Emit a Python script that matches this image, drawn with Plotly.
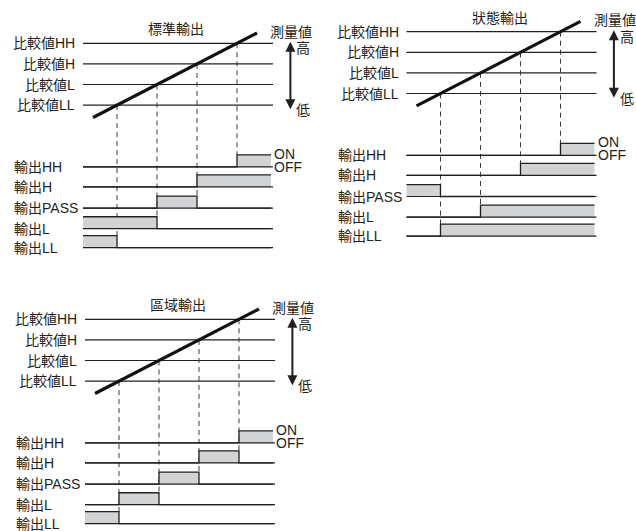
import numpy as np
import plotly.graph_objects as go

# comparison levels (measured-value units)
CMP_LABELS = ["比較値HH", "比較値H", "比較値L", "比較値LL"]
CMP_LEVELS = [4, 3, 2, 1]

# measured value rising over time
MEAS_T = [0.5, 8.7]
MEAS_V = [0.4, 4.5]

OUT_LABELS = ["輸出HH", "輸出H", "輸出PASS", "輸出L", "輸出LL"]
PANEL_TITLES = ["標準輸出", "狀態輸出", "區域輸出"]

# ON(1)/OFF(0) per zone: <LL, LL-L, L-H, H-HH, >HH
OUT_STATES = [
    [[0, 0, 0, 0, 1], [0, 0, 0, 1, 1], [0, 0, 1, 0, 0], [1, 1, 0, 0, 0], [1, 0, 0, 0, 0]],
    [[0, 0, 0, 0, 1], [0, 0, 0, 1, 1], [1, 0, 0, 0, 0], [0, 0, 1, 1, 1], [0, 1, 1, 1, 1]],
    [[0, 0, 0, 0, 1], [0, 0, 0, 1, 0], [0, 0, 1, 0, 0], [0, 1, 0, 0, 0], [1, 0, 0, 0, 0]],
]

W, H = 636, 531
SX, SY = 20.0, 20.6
ROW_Y = [-2.0, -2.97, -4.0, -5.0, -5.92]
PULSE_H = 0.58
T_END = 9.5
T_ON_END = 9.4

# (x px of t=0, y px of HH level, box l, r, t, b)
PANELS = [
    (83, 43.3, 0, 320, 0, 275),
    (406.5, 31.7, 320, 636, 0, 275),
    (85, 319.3, 0, 320, 280, 531),
]

INK = "#231f20"
FILL = "#d1d3d4"
FONT = dict(family="Liberation Sans, Arial, Noto Sans CJK JP", size=14, color=INK)

fig = go.Figure()
annotations = []

cross_t = np.interp(sorted(CMP_LEVELS), MEAS_V, MEAS_T)
edges = [0.0] + list(cross_t) + [T_ON_END]

for i, (x0, y0, bl, br, bt, bb) in enumerate(PANELS):
    sfx = "" if i == 0 else str(i + 1)
    xa, ya = "x" + sfx, "y" + sfx
    top = max(CMP_LEVELS)

    fig.update_layout({
        "xaxis" + sfx: dict(domain=[bl / W, br / W], range=[(bl - x0) / SX, (br - x0) / SX],
                            visible=False, fixedrange=True, anchor=ya),
        "yaxis" + sfx: dict(domain=[1 - bb / H, 1 - bt / H],
                            range=[top - (bb - y0) / SY, top + (y0 - bt) / SY],
                            visible=False, fixedrange=True, anchor=xa),
    })

    # comparison lines
    for lab, lv in zip(CMP_LABELS, CMP_LEVELS):
        fig.add_trace(go.Scatter(x=[0, T_END], y=[lv, lv], mode="lines",
                                 line=dict(color=INK, width=1.2), xaxis=xa, yaxis=ya,
                                 hoverinfo="skip"))
        annotations.append(dict(x=-0.3, y=lv, xref=xa, yref=ya, text=lab, showarrow=False,
                                xanchor="right", yanchor="middle", font=FONT))

    states = OUT_STATES[i]
    # dashed guides from crossing down to the lowest transition
    for k, ct in enumerate(cross_t):
        rows = [r for r in range(len(OUT_LABELS)) if states[r][k] != states[r][k + 1]]
        y_low = ROW_Y[max(rows)] + PULSE_H
        fig.add_trace(go.Scatter(x=[ct, ct], y=[sorted(CMP_LEVELS)[k], y_low], mode="lines",
                                 line=dict(color="#3a3a3a", width=1, dash="5px,4px"),
                                 xaxis=xa, yaxis=ya, hoverinfo="skip"))

    # output rows
    for r, (lab, st) in enumerate(zip(OUT_LABELS, states)):
        base = ROW_Y[r]
        fig.add_trace(go.Scatter(x=[0, T_ON_END], y=[base, base], mode="lines",
                                 line=dict(width=0), xaxis=xa, yaxis=ya, hoverinfo="skip"))
        fig.add_trace(go.Scatter(x=edges, y=[base + PULSE_H * s for s in st + [st[-1]]],
                                 mode="lines", line=dict(color=INK, width=1.3, shape="hv"),
                                 fill="tonexty", fillcolor=FILL, xaxis=xa, yaxis=ya,
                                 hoverinfo="skip"))
        fig.add_trace(go.Scatter(x=[0, T_END], y=[base, base], mode="lines",
                                 line=dict(color=INK, width=1.2), xaxis=xa, yaxis=ya,
                                 hoverinfo="skip"))
        annotations.append(dict(x=-3.55, y=base, xref=xa, yref=ya, text=lab, showarrow=False,
                                xanchor="left", yanchor="middle", font=FONT))

    annotations.append(dict(x=T_END - 0.05, y=ROW_Y[0] + PULSE_H + 0.05, xref=xa, yref=ya,
                            text="ON", showarrow=False, xanchor="left", yanchor="middle",
                            font=FONT))
    annotations.append(dict(x=T_END - 0.05, y=ROW_Y[0], xref=xa, yref=ya, text="OFF",
                            showarrow=False, xanchor="left", yanchor="middle", font=FONT))

    # measured value line
    fig.add_trace(go.Scatter(x=MEAS_T, y=MEAS_V, mode="lines", line=dict(color="#111", width=3.2),
                             xaxis=xa, yaxis=ya, hoverinfo="skip"))

    annotations.append(dict(x=4.65, y=4.68, xref=xa, yref=ya, text=PANEL_TITLES[i],
                            showarrow=False, font=FONT))
    annotations.append(dict(x=10.4, y=4.55, xref=xa, yref=ya, text="測量値",
                            showarrow=False, font=FONT))
    annotations.append(dict(x=10.37, y=4.07, ax=10.37, ay=0.72, xref=xa, yref=ya,
                            axref=xa, ayref=ya, text="", showarrow=True, arrowhead=2,
                            arrowside="end+start", arrowsize=1, arrowwidth=2, arrowcolor=INK))
    annotations.append(dict(x=11.0, y=3.75, xref=xa, yref=ya, text="高",
                            showarrow=False, font=FONT))
    annotations.append(dict(x=11.0, y=0.75, xref=xa, yref=ya, text="低",
                            showarrow=False, font=FONT))

fig.update_layout(
    width=W, height=H,
    margin=dict(l=0, r=0, t=0, b=0),
    paper_bgcolor="white", plot_bgcolor="rgba(0,0,0,0)",
    showlegend=False,
    annotations=annotations,
)

# drop the default body margin so the figure fills the window exactly
fig.write_html("out.html", config={"displayModeBar": False},
               post_script="document.body.style.margin='0';")
